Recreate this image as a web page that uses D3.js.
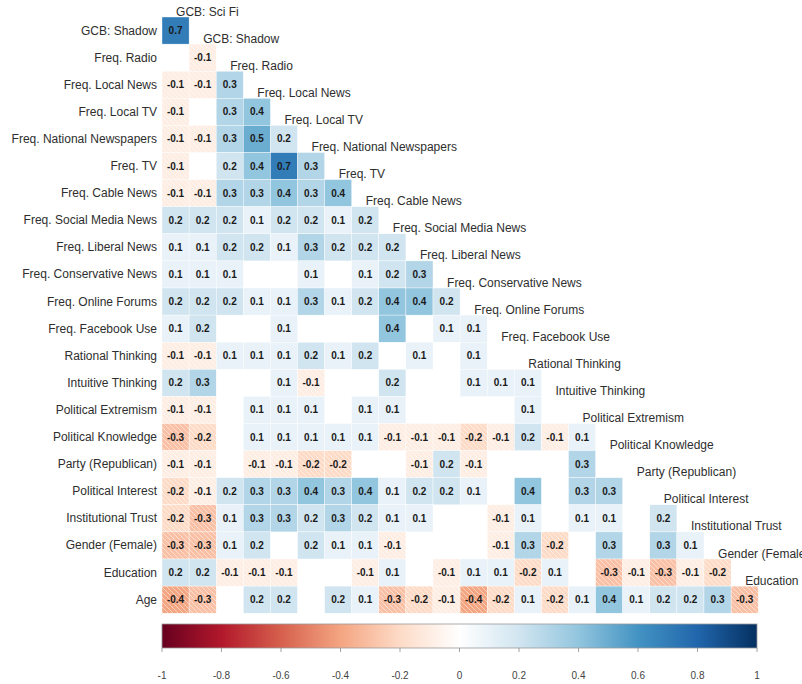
<!DOCTYPE html>
<html>
<head>
<meta charset="utf-8">
<script src="https://cdn.jsdelivr.net/npm/d3@7"></script>
<style>
  html, body { margin: 0; padding: 0; background: #fff; }
  svg { display: block; }
  text { font-family: "Liberation Sans", Arial, sans-serif; }
</style>
</head>
<body>
<svg id="chart" width="802" height="684"></svg>
<script>
// Variables in matrix order: columns are the first 22, rows the last 22.
const variables = [
  "GCB: Sci Fi", "GCB: Shadow", "Freq. Radio", "Freq. Local News", "Freq. Local TV",
  "Freq. National Newspapers", "Freq. TV", "Freq. Cable News", "Freq. Social Media News",
  "Freq. Liberal News", "Freq. Conservative News", "Freq. Online Forums", "Freq. Facebook Use",
  "Rational Thinking", "Intuitive Thinking", "Political Extremism", "Political Knowledge",
  "Party (Republican)", "Political Interest", "Institutional Trust", "Gender (Female)",
  "Education", "Age"
];
const colVars = variables.slice(0, 22);
const rowVars = variables.slice(1);

// Lower-triangle correlations; null = not shown (non-significant).
const rGCBShadow       = [0.7];
const rRadio           = [null, -0.1];
const rLocalNews       = [-0.1, -0.1, 0.3];
const rLocalTV         = [-0.1, null, 0.3, 0.4];
const rNatNewspapers   = [-0.1, -0.1, 0.3, 0.5, 0.2];
const rTV              = [-0.1, null, 0.2, 0.4, 0.7, 0.3];
const rCableNews       = [-0.1, -0.1, 0.3, 0.3, 0.4, 0.3, 0.4];
const rSocialMedia     = [0.2, 0.2, 0.2, 0.1, 0.2, 0.2, 0.1, 0.2];
const rLiberalNews     = [0.1, 0.1, 0.2, 0.2, 0.1, 0.3, 0.2, 0.2, 0.2];
const rConservNews     = [0.1, 0.1, 0.1, null, null, 0.1, null, 0.1, 0.2, 0.3];
const rOnlineForums    = [0.2, 0.2, 0.2, 0.1, 0.1, 0.3, 0.1, 0.2, 0.4, 0.4, 0.2];
const rFacebook        = [0.1, 0.2, null, null, 0.1, null, null, null, 0.4, null, 0.1, 0.1];
const rRational        = [-0.1, -0.1, 0.1, 0.1, 0.1, 0.2, 0.1, 0.2, null, 0.1, null, 0.1, null];
const rIntuitive       = [0.2, 0.3, null, null, 0.1, -0.1, null, null, 0.2, null, null, 0.1, 0.1, 0.1];
const rPolExtremism    = [-0.1, -0.1, null, 0.1, 0.1, 0.1, null, 0.1, 0.1, null, null, null, null, 0.1, null];
const rPolKnowledge    = [-0.3, -0.2, null, 0.1, 0.1, 0.1, 0.1, 0.1, -0.1, -0.1, -0.1, -0.2, -0.1, 0.2, -0.1, 0.1];
const rParty           = [-0.1, -0.1, null, -0.1, -0.1, -0.2, -0.2, null, null, -0.1, 0.2, -0.1, null, null, null, 0.3, null];
const rPolInterest     = [-0.2, -0.1, 0.2, 0.3, 0.3, 0.4, 0.3, 0.4, 0.1, 0.2, 0.2, 0.1, null, 0.4, null, 0.3, 0.3, null];
const rInstTrust       = [-0.2, -0.3, 0.1, 0.3, 0.3, 0.2, 0.3, 0.2, 0.1, 0.1, null, null, -0.1, 0.1, null, 0.1, 0.1, null, 0.2];
const rGender          = [-0.3, -0.3, 0.1, 0.2, null, 0.2, 0.1, 0.1, -0.1, null, null, null, -0.1, 0.3, -0.2, null, 0.3, null, 0.3, 0.1];
const rEducation       = [0.2, 0.2, -0.1, -0.1, -0.1, null, null, -0.1, 0.1, null, -0.1, 0.1, 0.1, -0.2, 0.1, null, -0.3, -0.1, -0.3, -0.1, -0.2];
const rAge             = [-0.4, -0.3, null, 0.2, 0.2, null, 0.2, 0.1, -0.3, -0.2, -0.1, -0.4, -0.2, 0.1, -0.2, 0.1, 0.4, 0.1, 0.2, 0.2, 0.3, -0.3];

const rows = [rGCBShadow, rRadio, rLocalNews, rLocalTV, rNatNewspapers, rTV, rCableNews,
  rSocialMedia, rLiberalNews, rConservNews, rOnlineForums, rFacebook, rRational, rIntuitive,
  rPolExtremism, rPolKnowledge, rParty, rPolInterest, rInstTrust, rGender, rEducation, rAge];

// Colour bar ticks and diverging palette stops (-1 .. 1 in steps of 0.2)
const barTicks = [-1, -0.8, -0.6, -0.4, -0.2, 0, 0.2, 0.4, 0.6, 0.8, 1];
const paletteRdBu = ["#67001F", "#B2182B", "#D6604D", "#F4A582", "#FDDBC7", "#FFFFFF",
  "#D1E5F0", "#92C5DE", "#4393C3", "#2166AC", "#053061"];

// Formats using a plain hyphen as the minus sign
const fmtCoef = d3.formatLocale({ decimal: ".", thousands: ",", grouping: [3], currency: ["", ""], minus: "-" }).format(".1f");
const fmtTick = d3.formatLocale({ decimal: ".", thousands: ",", grouping: [3], currency: ["", ""], minus: "-" }).format("");

const cells = [];
rows.forEach((vals, i) => vals.forEach((v, j) => {
  if (v !== null) cells.push({ row: rowVars[i], col: colVars[j], value: v });
}));

const svg = d3.select("#chart");
const x = d3.scaleBand().domain(colVars).range([162, 758.2]);
const y = d3.scaleBand().domain(rowVars).range([17, 613.2]);
const color = d3.scaleLinear().domain(barTicks).range(paletteRdBu).interpolate(d3.interpolateRgb);

// Diagonal hatch for negative correlations
const defs = svg.append("defs");
const hatch = defs.append("pattern")
  .attr("id", "hatch").attr("patternUnits", "userSpaceOnUse")
  .attr("width", 5).attr("height", 5);
hatch.append("path")
  .attr("d", "M0,0 L5,5 M-1,4 L1,6 M4,-1 L6,1")
  .attr("stroke", "#fff").attr("stroke-opacity", 0.55).attr("stroke-width", 0.9);

const g = svg.append("g");
g.selectAll("rect.cell").data(cells).join("rect")
  .attr("class", "cell")
  .attr("x", d => x(d.col)).attr("y", d => y(d.row))
  .attr("width", x.bandwidth()).attr("height", y.bandwidth())
  .attr("fill", d => color(d.value))
  .attr("stroke", "#fff").attr("stroke-width", 0.4);

g.selectAll("rect.hatch").data(cells.filter(d => d.value < 0)).join("rect")
  .attr("class", "hatch")
  .attr("x", d => x(d.col)).attr("y", d => y(d.row))
  .attr("width", x.bandwidth()).attr("height", y.bandwidth())
  .attr("fill", "url(#hatch)");

g.selectAll("text.coef").data(cells).join("text")
  .attr("class", "coef")
  .attr("x", d => x(d.col) + x.bandwidth() / 2)
  .attr("y", d => y(d.row) + y.bandwidth() / 2)
  .attr("text-anchor", "middle").attr("dominant-baseline", "central")
  .attr("font-size", 10).attr("font-weight", "bold").attr("fill", "#1a1a1a")
  .text(d => fmtCoef(d.value));

// Row labels on the left
svg.append("g").selectAll("text").data(rowVars).join("text")
  .attr("x", 157).attr("y", d => y(d) + y.bandwidth() / 2)
  .attr("text-anchor", "end").attr("dominant-baseline", "central")
  .attr("font-size", 12).attr("fill", "#2e2e2e")
  .text(d => d);

// Column labels along the diagonal, above each column's top cell
svg.append("g").selectAll("text").data(colVars).join("text")
  .attr("x", d => x(d) + x.bandwidth() / 2 + 0.5)
  .attr("y", (d, i) => y(rowVars[i]) - 1.5)
  .attr("text-anchor", "start")
  .attr("font-size", 12).attr("fill", "#2e2e2e")
  .text(d => d);

// Colour legend
const bx = d3.scaleLinear().domain([-1, 1]).range([162, 757]);
const grad = defs.append("linearGradient").attr("id", "bar")
  .attr("x1", "0%").attr("x2", "100%").attr("y1", "0%").attr("y2", "0%");
grad.selectAll("stop").data(barTicks).join("stop")
  .attr("offset", d => ((d + 1) / 2 * 100) + "%")
  .attr("stop-color", d => color(d));

const barTop = 624, barBottom = 648;
const legend = svg.append("g");
legend.append("rect")
  .attr("x", bx(-1)).attr("y", barTop)
  .attr("width", bx(1) - bx(-1)).attr("height", barBottom - barTop)
  .attr("fill", "url(#bar)").attr("stroke", "#9a9a9a").attr("stroke-width", 0.8);
legend.selectAll("line").data(barTicks).join("line")
  .attr("x1", d => bx(d)).attr("x2", d => bx(d))
  .attr("y1", barBottom).attr("y2", barBottom + 4)
  .attr("stroke", "#8a8a8a").attr("stroke-width", 0.8);
legend.selectAll("text").data(barTicks).join("text")
  .attr("x", d => bx(d)).attr("y", 679)
  .attr("text-anchor", "middle").attr("font-size", 10).attr("fill", "#444")
  .text(d => fmtTick(d));
</script>
</body>
</html>
